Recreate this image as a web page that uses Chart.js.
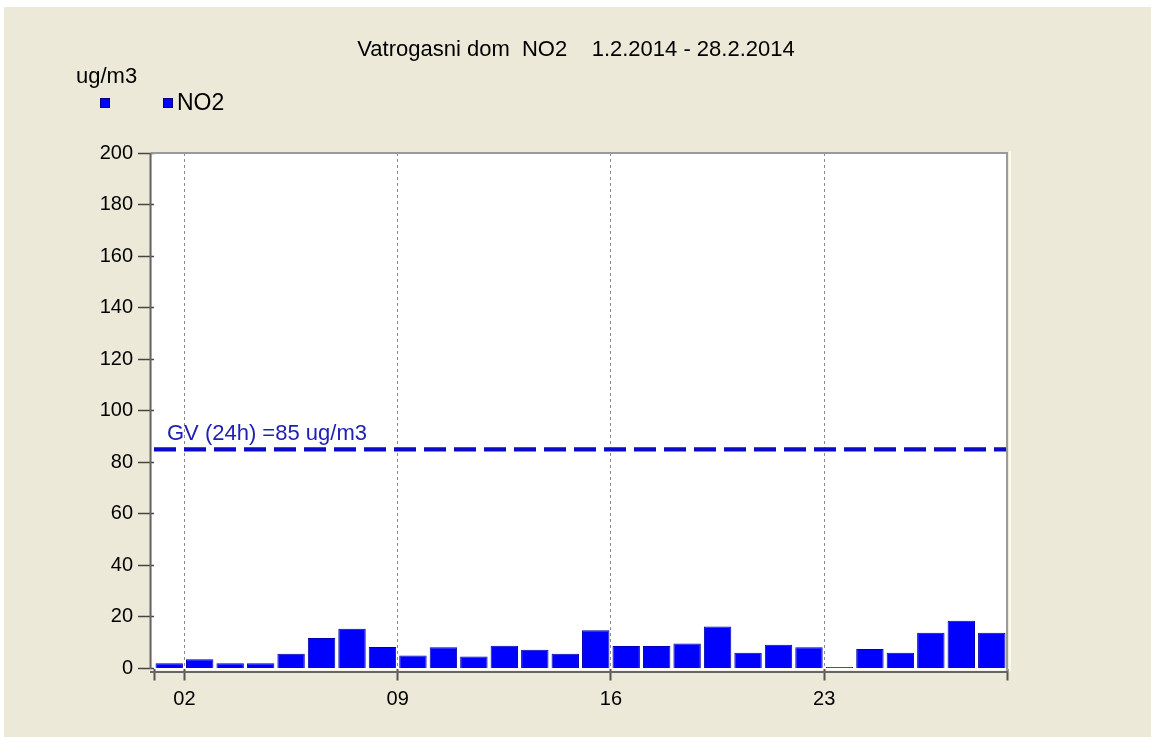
<!DOCTYPE html>
<html>
<head>
<meta charset="utf-8">
<title>Vatrogasni dom NO2</title>
<script src="https://cdn.jsdelivr.net/npm/chart.js"></script>
<style>
  html, body { margin: 0; padding: 0; background: #ffffff; }
  #bg { position: absolute; left: 4px; top: 7px; right: 0; bottom: 0; background: #ece9d8; }
  #chart { position: absolute; left: 0; top: 0; }
</style>
</head>
<body>
<div id="bg"></div>
<canvas id="chart" width="1151" height="737"></canvas>
<script>
// --- data ---
const days = [1, 2, 3, 4, 5, 6, 7, 8, 9, 10, 11, 12, 13, 14, 15, 16, 17, 18, 19, 20, 21, 22, 23, 24, 25, 26, 27, 28];
const no2 = [2.0, 3.6, 2.0, 2.0, 5.7, 11.8, 15.4, 8.3, 5.0, 8.2, 4.7, 8.8, 7.3, 5.7, 14.8, 8.7, 8.7, 9.7, 16.3, 6.1, 9.2, 8.2, 0.6, 7.6, 6.1, 13.9, 18.5, 13.9];
const limitValue = 85;
const limitLabel = "GV (24h) =85 ug/m3";
const xTicks = [1, 2, 9, 16, 23, 29];
const xTickLabels = ["", "02", "09", "16", "23", ""];
const yMin = 0, yMax = 200, yStep = 20;
const titleText = "Vatrogasni dom  NO2    1.2.2014 - 28.2.2014";
const unitText = "ug/m3";

const FONT = "'Liberation Sans', Arial, sans-serif";

const decor = {
  id: "decor",
  beforeDraw(chart) {
    const { ctx, chartArea: a } = chart;
    ctx.save();
    ctx.fillStyle = "#ffffff";
    ctx.fillRect(a.left - 2, a.top, a.right - a.left + 2, a.bottom - a.top + 2);
    ctx.restore();
  },
  afterDatasetsDraw(chart) {
    const { ctx, chartArea: a, scales } = chart;
    ctx.save();
    ctx.font = "22px " + FONT;
    ctx.fillStyle = "#2020b4";
    ctx.textBaseline = "alphabetic";
    ctx.fillText(limitLabel, a.left + 13, scales.y.getPixelForValue(limitValue) - 9);
    ctx.restore();
  },
  afterDraw(chart) {
    const { ctx, chartArea: a } = chart;
    ctx.save();
    // frame
    ctx.strokeStyle = "#9a9a9a";
    ctx.lineWidth = 2;
    ctx.beginPath();
    ctx.moveTo(a.left - 3, a.top);
    ctx.lineTo(a.right, a.top);
    ctx.lineTo(a.right, a.bottom + 3);
    ctx.stroke();
    ctx.strokeStyle = "#fbfbf6";
    ctx.beginPath();
    ctx.moveTo(a.right + 3, a.top - 2);
    ctx.lineTo(a.right + 3, a.bottom + 3);
    ctx.stroke();
    // axes
    ctx.strokeStyle = "#666666";
    ctx.beginPath();
    ctx.moveTo(a.left - 3.5, a.top);
    ctx.lineTo(a.left - 3.5, a.bottom + 0.5);
    ctx.stroke();
    ctx.beginPath();
    ctx.moveTo(a.left - 4, a.bottom + 3.5);
    ctx.lineTo(a.right + 1, a.bottom + 3.5);
    ctx.stroke();

    // title
    ctx.fillStyle = "#000000";
    ctx.font = "22px " + FONT;
    ctx.textAlign = "center";
    ctx.textBaseline = "alphabetic";
    ctx.fillText(titleText, 576, 56);
    // unit
    ctx.textAlign = "left";
    ctx.font = "22px " + FONT;
    ctx.fillText(unitText, 76, 83);
    // legend
    const boxes = [[100, ""], [163, "NO2"]];
    boxes.forEach(([x, txt]) => {
      ctx.fillStyle = "#0000ff";
      ctx.fillRect(x, 98, 10, 10);
      ctx.strokeStyle = "#00007a";
      ctx.lineWidth = 1;
      ctx.strokeRect(x + 0.5, 98.5, 9, 9);
      if (txt) {
        ctx.fillStyle = "#000000";
        ctx.font = "23px " + FONT;
        ctx.fillText(txt, x + 14, 110);
      }
    });
    ctx.restore();
  }
};

new Chart(document.getElementById("chart"), {
  data: {
    datasets: [
      {
        type: "bar",
        label: "NO2",
        data: days.map((d, i) => ({ x: d + 0.5, y: no2[i] })),
        backgroundColor: "#0000ff",
        borderColor: "#0000b0",
        borderWidth: 1,
        barPercentage: 0.9,
        categoryPercentage: 1.0,
        order: 2
      },
      {
        type: "line",
        label: "",
        data: [{ x: xTicks[0], y: limitValue }, { x: xTicks[xTicks.length - 1], y: limitValue }],
        borderColor: "#0a0ac8",
        borderWidth: 4.3,
        borderDash: [22, 8],
        pointRadius: 0,
        fill: false,
        order: 1
      }
    ]
  },
  options: {
    responsive: false,
    animation: false,
    devicePixelRatio: 1,
    layout: { padding: { left: 100, right: 144, top: 153, bottom: 28.5 } },
    plugins: {
      legend: { display: false },
      title: { display: false },
      tooltip: { enabled: false }
    },
    scales: {
      x: {
        type: "linear",
        offset: false,
        min: xTicks[0],
        max: xTicks[xTicks.length - 1],
        afterBuildTicks: (scale) => { scale.ticks = xTicks.map(v => ({ value: v })); },
        afterFit: (scale) => { scale.height = 40; },
        ticks: {
          autoSkip: false,
          maxRotation: 0,
          padding: 7,
          color: "#000000",
          font: { family: FONT, size: 20 },
          callback: (v, i) => xTickLabels[i]
        },
        grid: {
          offset: false,
          drawOnChartArea: true,
          drawTicks: true,
          tickLength: 12,
          tickWidth: 2,
          tickColor: "#555555",
          lineWidth: 1,
          color: (c) => (xTickLabels[c.index] ? "#8a8a8a" : "rgba(0,0,0,0)")
        },
        border: { display: false, dash: [3, 3] }
      },
      y: {
        min: yMin,
        max: yMax,
        afterFit: (scale) => { scale.width = 54; },
        ticks: {
          stepSize: yStep,
          padding: 5,
          color: "#000000",
          font: { family: FONT, size: 20 }
        },
        grid: {
          drawOnChartArea: false,
          drawTicks: true,
          tickLength: 16,
          tickWidth: 1.5,
          tickColor: "#444444"
        },
        border: { display: false }
      }
    }
  },
  plugins: [decor]
});
</script>
</body>
</html>
